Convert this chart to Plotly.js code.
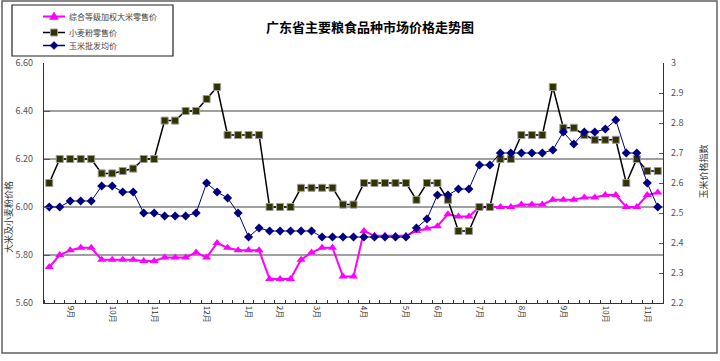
<!DOCTYPE html>
<html>
<head>
<meta charset="utf-8">
<script src="https://cdn.plot.ly/plotly-3.0.1.min.js"></script>
<style>html,body{margin:0;padding:0;background:#fff;}#chart{width:720px;height:361px;}</style>
</head>
<body>
<div id="chart"></div>
<script>
var seriesNames = ["综合等级加权大米零售价", "小麦粉零售价", "玉米批发均价"];
var riceValues = [5.75,5.80,5.82,5.83,5.83,5.78,5.78,5.78,5.78,5.775,5.775,5.79,5.79,5.79,5.81,5.79,5.85,5.83,5.82,5.82,
                  5.82,5.70,5.70,5.70,5.78,5.81,5.83,5.83,5.71,5.71,5.90,5.88,5.88,5.88,5.88,5.90,5.91,5.92,5.97,5.96,
                  5.96,6.00,6.00,6.00,6.00,6.01,6.01,6.01,6.03,6.03,6.03,6.04,6.04,6.05,6.05,6.00,6.00,6.05,6.06];
var flourValues = [6.10,6.20,6.20,6.20,6.20,6.14,6.14,6.15,6.16,6.20,6.20,6.36,6.36,6.40,6.40,6.45,6.50,6.30,6.30,6.30,
                   6.30,6.00,6.00,6.00,6.08,6.08,6.08,6.08,6.01,6.01,6.10,6.10,6.10,6.10,6.10,6.03,6.10,6.10,6.03,5.90,
                   5.90,6.00,6.00,6.20,6.20,6.30,6.30,6.30,6.50,6.33,6.33,6.30,6.28,6.28,6.28,6.10,6.20,6.15,6.15];
var cornValues = [2.52,2.52,2.54,2.54,2.54,2.59,2.59,2.57,2.57,2.50,2.50,2.49,2.49,2.49,2.50,2.60,2.57,2.55,2.50,2.42,
                  2.45,2.44,2.44,2.44,2.44,2.44,2.42,2.42,2.42,2.42,2.42,2.42,2.42,2.42,2.42,2.45,2.48,2.56,2.56,2.58,
                  2.58,2.66,2.66,2.70,2.70,2.70,2.70,2.70,2.71,2.77,2.73,2.77,2.77,2.78,2.81,2.70,2.70,2.60,2.52];
var monthTickPos = [2,6,10,15,19,22,25.5,30,34,37,41,45,49,53,57];
var monthTickText = ["9月","10月","11月","12月","1月","2月","3月","4月","5月","6月","7月","8月","9月","10月","11月"];
var leftGridValues = [5.8,6.0,6.2,6.4];
var seriesColors = ['#ff00ff', '#000000', '#000080'];
var markerColors = ['#ff00ff', '#333300', '#000080'];

// ---- chart ----
var xIdx = riceValues.map(function(v,i){return i;});
var F = '"Noto Sans CJK SC", "Noto Sans", sans-serif';

var traces = [
  {x:xIdx, y:riceValues, name:seriesNames[0], type:'scatter', mode:'lines+markers', yaxis:'y',
   line:{color:seriesColors[0], width:2}, marker:{symbol:'triangle-up', size:8, color:markerColors[0]}},
  {x:xIdx, y:flourValues, name:seriesNames[1], type:'scatter', mode:'lines+markers', yaxis:'y',
   line:{color:seriesColors[1], width:1.5}, marker:{symbol:'square', size:7, color:markerColors[1], line:{color:'#9a9a9a', width:1}}},
  {x:xIdx, y:cornValues, name:seriesNames[2], type:'scatter', mode:'lines+markers', yaxis:'y2',
   line:{color:seriesColors[2], width:1}, marker:{symbol:'diamond', size:7, color:markerColors[2]}}
];

// pixel helpers for decoration placement (plot area 44..663 x 63..303)
function px(x){return (x-44)/619;}
function py(y){return (303-y)/240;}
function pathPx(pts){
  return pts.map(function(p,i){return (i?'L':'M')+px(p[0])+','+py(p[1]);}).join(' ')+' Z';
}

var shapes = leftGridValues.map(function(v){
  return {type:'line', xref:'paper', yref:'y', x0:0, x1:1, y0:v, y1:v, line:{color:'#808080', width:1.5}, layer:'below'};
});
shapes.push({type:'rect', xref:'paper', yref:'paper', x0:px(2), x1:px(717), y0:py(1), y1:py(353), line:{color:'#606060', width:1.5}});
shapes.push({type:'rect', xref:'paper', yref:'paper', x0:px(12), x1:px(173), y0:py(5), y1:py(56), line:{color:'#222222', width:1.2}, fillcolor:'rgba(255,255,255,0)'});

// custom legend (sample line + symbol + text)
var legY = [16.5, 32.5, 45.5];
var annotations = [];
seriesNames.forEach(function(n, i){
  var y = legY[i];
  shapes.push({type:'line', xref:'paper', yref:'paper', x0:px(43), x1:px(65), y0:py(y), y1:py(y),
               line:{color:seriesColors[i], width:i===0?2:1.5}});
  var pts;
  if(i===0) pts = [[54,y-4.5],[49.5,y+3],[58.5,y+3]];
  else if(i===1) pts = [[50.5,y-3.5],[57.5,y-3.5],[57.5,y+3.5],[50.5,y+3.5]];
  else pts = [[54,y-4],[58,y],[54,y+4],[50,y]];
  shapes.push({type:'path', xref:'paper', yref:'paper', path:pathPx(pts), fillcolor:markerColors[i],
               line:{color:i===1?'#9a9a9a':markerColors[i], width:i===1?1:0.5}});
  annotations.push({text:n, xref:'paper', yref:'paper', x:px(67), y:py(y), xanchor:'left', yanchor:'middle',
                    showarrow:false, font:{family:F, size:8, color:'#444444'}});
});
annotations.push({text:'大米及小麦粉价格', xref:'paper', yref:'paper', x:px(8), y:py(217), xanchor:'center', showarrow:false, textangle:-90,
                  font:{family:F, size:9, color:'#333333'}});
annotations.push({text:'玉米价格指数', xref:'paper', yref:'paper', x:px(711), y:py(172), showarrow:false, textangle:-90,
                  font:{family:F, size:9, color:'#333333'}});

var layout = {
  width:720, height:361,
  margin:{l:44, r:57, t:63, b:58},
  paper_bgcolor:'#ffffff', plot_bgcolor:'#ffffff',
  font:{family:F, size:9, color:'#333333'},
  title:{text:'广东省主要粮食品种市场价格走势图', x:370/720, xref:'container', y:1-27/361, yref:'container', yanchor:'middle',
         font:{family:F, size:13, color:'#000000', weight:'bold'}},
  showlegend:false,
  xaxis:{range:[-0.5,58.5], tickmode:'array', tickvals:monthTickPos, ticktext:monthTickText, tickangle:90,
         ticks:'', showgrid:false, zeroline:false, showline:true, linecolor:'#333333', linewidth:1.2,
         tickfont:{family:F, size:8, color:'#333333'},
         minor:{tickmode:'linear', tick0:-0.5, dtick:1, ticks:'inside', ticklen:3, tickcolor:'#333333', showgrid:false}},
  yaxis:{range:[5.6,6.6], dtick:0.2, tick0:5.6, tickformat:'.2f', ticks:'inside', ticklen:6, tickcolor:'#555555',
         showgrid:false, zeroline:false, showline:true, linecolor:'#333333', linewidth:1.2,
         tickfont:{family:F, size:9, color:'#555555'}, ticklabelstandoff:8},
  yaxis2:{range:[2.2,3.0], dtick:0.1, tick0:2.2, overlaying:'y', side:'right', ticks:'inside', ticklen:4, tickcolor:'#555555',
          showgrid:false, zeroline:false, showline:true, linecolor:'#333333', linewidth:1.2,
          tickfont:{family:F, size:9, color:'#555555'}, ticklabelstandoff:5},
  shapes:shapes,
  annotations:annotations
};

Plotly.newPlot('chart', traces, layout, {displayModeBar:false, staticPlot:true});
</script>
</body>
</html>
